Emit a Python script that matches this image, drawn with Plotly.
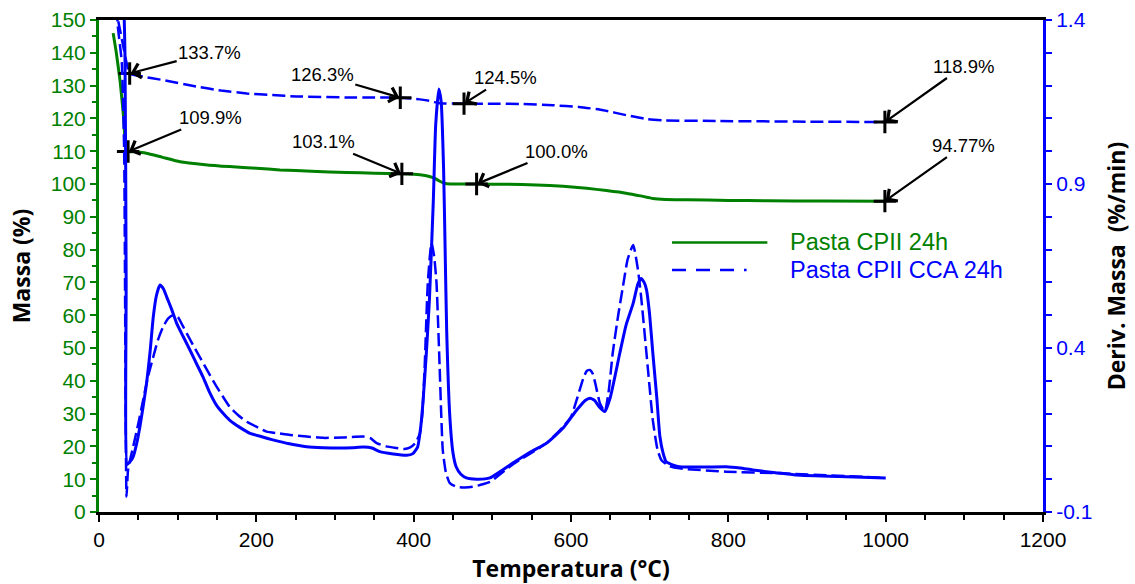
import plotly.graph_objects as go

# ---- Mass curves (left axis, %) ----
mass_cp_temp = [18, 22, 27, 31, 34, 37, 45, 60, 80, 103,
                135, 166, 200, 230, 270, 315, 350, 385, 408, 420,
                427, 432, 437, 442, 460, 480, 520, 556, 590, 620,
                645, 670, 690, 704, 720, 747, 800, 850, 920, 1000]
mass_cp = [146.0, 140.0, 131.0, 121.0, 111.5, 109.9, 109.8, 109.4, 108.2, 106.8,
           105.9, 105.3, 104.8, 104.3, 103.9, 103.5, 103.3, 103.1, 102.8, 102.3,
           101.7, 101.0, 100.4, 100.1, 100.0, 100.0, 99.9, 99.7, 99.3, 98.7,
           98.0, 97.2, 96.3, 95.6, 95.3, 95.2, 95.0, 94.9, 94.8, 94.77]

mass_cca_temp = [20, 25, 30, 35, 39, 50, 81, 124, 155, 188,
                 220, 251, 315, 350, 383, 408, 420, 426, 433, 464,
                 500, 535, 577, 610, 641, 670, 696, 720, 789, 900, 1000]
mass_cca = [155.0, 149.0, 143.0, 137.0, 133.7, 133.0, 131.7, 129.7, 128.5, 127.6,
            127.1, 126.7, 126.4, 126.35, 126.3, 125.8, 125.4, 125.0, 124.6, 124.5,
            124.5, 124.4, 124.0, 123.5, 122.5, 121.0, 119.8, 119.4, 119.2, 119.0, 118.9]

# ---- Derivative curves (right axis, %/min) ----
dtg_cp_temp = [18, 30, 33, 34.5, 36, 40, 43.5, 48, 52, 56,
               60.5, 65, 69, 73, 77.5, 82, 86, 92, 98.6, 107,
               115.6, 124, 132, 140, 149.5, 158, 166, 179, 192, 206,
               221, 242, 264, 285, 306, 322, 336, 347, 357, 374,
               391, 399, 405, 409, 412, 416, 420, 425, 428, 432,
               435, 438, 440, 442, 446, 450, 454, 460, 467, 480,
               497, 526, 550, 569, 590, 607, 618, 624, 630, 636,
               643, 650, 662, 670, 679, 685, 689, 693, 696, 700,
               704, 709, 713, 717, 721, 730, 738, 770, 797, 815,
               831, 860, 886, 940, 1000]
dtg_cp = [1.6, 1.5, 1.3, 0.6, 0.045, 0.055, 0.069, 0.11, 0.16, 0.22,
          0.293, 0.39, 0.495, 0.56, 0.592, 0.58, 0.556, 0.52, 0.476, 0.435,
          0.394, 0.352, 0.313, 0.268, 0.225, 0.2, 0.18, 0.158, 0.14, 0.13,
          0.12, 0.108, 0.099, 0.096, 0.095, 0.096, 0.098, 0.095, 0.084, 0.077,
          0.073, 0.078, 0.098, 0.16, 0.24, 0.38, 0.546, 0.85, 1.08, 1.19,
          1.15, 0.95, 0.7, 0.45, 0.19, 0.08, 0.038, 0.015, 0.004, 0.0,
          0.004, 0.049, 0.085, 0.11, 0.156, 0.21, 0.24, 0.247, 0.24, 0.22,
          0.206, 0.25, 0.384, 0.47, 0.536, 0.595, 0.612, 0.6, 0.577, 0.5,
          0.385, 0.25, 0.13, 0.08, 0.053, 0.043, 0.038, 0.037, 0.038, 0.034,
          0.028, 0.02, 0.013, 0.008, 0.004]

dtg_cca_temp = [18, 24, 29, 32, 35, 37, 43.5, 50, 56, 62,
                69, 75, 81.6, 88, 94, 100, 107, 117, 128, 138,
                149.5, 158, 166, 177, 188, 200, 213, 228, 243, 264,
                285, 310, 336, 345, 353, 365, 378, 388, 395, 402,
                408, 411, 414, 418, 422.6, 426, 429, 431, 433, 435,
                437, 441, 446, 454, 465, 475, 484, 497, 526, 569,
                590, 600, 607, 612, 616, 620, 624, 628, 632, 637,
                643, 648, 653, 660, 666, 672, 679, 685, 689, 692,
                698, 704, 710, 715, 725, 738, 797, 865, 1000]
dtg_cca = [1.6, 1.38, 1.27, 1.0, -0.053, 0.03, 0.1, 0.17, 0.24, 0.31,
           0.373, 0.425, 0.465, 0.49, 0.5, 0.495, 0.465, 0.42, 0.373, 0.33,
           0.282, 0.25, 0.221, 0.195, 0.175, 0.16, 0.145, 0.14, 0.135, 0.13,
           0.126, 0.127, 0.13, 0.125, 0.11, 0.1, 0.095, 0.092, 0.096, 0.11,
           0.14, 0.2, 0.343, 0.6, 0.72, 0.68, 0.6, 0.48, 0.343, 0.2,
           0.089, 0.02, -0.012, -0.023, -0.025, -0.023, -0.018, -0.008, 0.045, 0.11,
           0.16, 0.19, 0.24, 0.28, 0.31, 0.33, 0.333, 0.32, 0.28, 0.23,
           0.206, 0.27, 0.384, 0.5, 0.587, 0.67, 0.714, 0.64, 0.56, 0.485,
           0.33, 0.18, 0.09, 0.058, 0.04, 0.033, 0.023, 0.018, 0.004]

# ---- Marked mass readings ----
mark_temp = [39, 383, 464, 999, 37, 385, 480, 999]
mark_value = [133.7, 126.3, 124.5, 118.9, 109.9, 103.1, 100.0, 94.77]
mark_label = ["133.7%", "126.3%", "124.5%", "118.9%",
              "109.9%", "103.1%", "100.0%", "94.77%"]

series_names = ["Pasta CPII 24h", "Pasta CPII CCA 24h"]

GREEN = "#008000"
BLUE = "#0000FF"
TICK_FONT = "Arial, Liberation Sans, sans-serif"
TITLE_FONT = "Open Sans, sans-serif"

fig = go.Figure()

# derivative curves
fig.add_trace(go.Scatter(x=dtg_cp_temp, y=dtg_cp, yaxis="y2", mode="lines",
                         line=dict(color=BLUE, width=3, shape="spline", smoothing=0.5),
                         showlegend=False))
fig.add_trace(go.Scatter(x=dtg_cca_temp, y=dtg_cca, yaxis="y2", mode="lines",
                         line=dict(color=BLUE, width=2.5, dash="13px,5px",
                                   shape="spline", smoothing=0.5),
                         showlegend=False))
# mass curves
fig.add_trace(go.Scatter(x=mass_cp_temp, y=mass_cp, mode="lines", name=series_names[0],
                         line=dict(color=GREEN, width=3, shape="spline", smoothing=0.5),
                         showlegend=False))
fig.add_trace(go.Scatter(x=mass_cca_temp, y=mass_cca, mode="lines", name=series_names[1],
                         line=dict(color=BLUE, width=2.5, dash="13px,5px",
                                   shape="spline", smoothing=0.5),
                         showlegend=False))
# cross markers at the labelled readings
fig.add_trace(go.Scatter(x=mark_temp, y=mark_value, mode="markers",
                         marker=dict(symbol="cross-thin", size=16,
                                     line=dict(color="black", width=3)),
                         showlegend=False))

# label offsets (px) of each text from its marker
label_dx = [80, -78, 41, 79, 82, -78, 80, 79]
label_dy = [-21, -23, -26, -56, -34, -32, -33, -56]
for t, v, lab, dx, dy in zip(mark_temp, mark_value, mark_label, label_dx, label_dy):
    fig.add_annotation(x=t, y=v, xref="x", yref="y", text=lab,
                       showarrow=True, ax=dx, ay=dy, axref="pixel", ayref="pixel",
                       arrowhead=4, arrowsize=1.3, arrowwidth=2.2, arrowcolor="black",
                       standoff=1, font=dict(family=TICK_FONT, size=18.5, color="black"))

# legend drawn as line samples with text beside them
fig.add_shape(type="line", xref="paper", yref="paper", x0=0.607, x1=0.708,
              y0=0.548, y1=0.548, line=dict(color=GREEN, width=2.5))
fig.add_shape(type="line", xref="paper", yref="paper", x0=0.607, x1=0.686,
              y0=0.492, y1=0.492, line=dict(color=BLUE, width=2.5, dash="14px,10px"))
fig.add_annotation(xref="paper", yref="paper", x=0.73, y=0.548, xanchor="left",
                   yanchor="middle", text=series_names[0], showarrow=False,
                   font=dict(family=TICK_FONT, size=23.5, color=GREEN))
fig.add_annotation(xref="paper", yref="paper", x=0.73, y=0.492, xanchor="left",
                   yanchor="middle", text=series_names[1], showarrow=False,
                   font=dict(family=TICK_FONT, size=23.5, color=BLUE))

fig.update_layout(
    width=1135, height=584,
    margin=dict(l=99, r=92, t=20, b=72, autoexpand=False),
    plot_bgcolor="white", paper_bgcolor="white",
    xaxis=dict(range=[0, 1200], dtick=200, tick0=0, showgrid=False, zeroline=False,
               showline=True, linecolor="black", linewidth=3, mirror=True,
               ticks="outside", ticklen=7, tickwidth=2, tickcolor="black",
               minor=dict(dtick=50, tick0=0, ticks="outside", ticklen=5,
                          tickwidth=2, tickcolor="black", showgrid=False),
               tickfont=dict(family=TICK_FONT, size=21, color="black"),
               title=dict(text="<b>Temperatura (°C)</b>", standoff=12,
                          font=dict(family=TITLE_FONT, size=23, color="black"))),
    yaxis=dict(range=[0, 150], dtick=10, tick0=0, showgrid=False, zeroline=False,
               showline=True, linecolor=GREEN, linewidth=3,
               ticks="outside", ticklen=6, tickwidth=2, tickcolor=GREEN,
               minor=dict(dtick=5, tick0=0, ticks="outside", ticklen=4,
                          tickwidth=2, tickcolor=GREEN, showgrid=False),
               tickfont=dict(family=TICK_FONT, size=21, color=GREEN),
               title=dict(text="<b>Massa (%)</b>", standoff=14,
                          font=dict(family=TITLE_FONT, size=23, color="black"))),
    yaxis2=dict(range=[-0.1, 1.4], overlaying="y", side="right",
                tickmode="array", tickvals=[-0.1, 0.4, 0.9, 1.4],
                ticktext=["-0.1", "0.4", "0.9", "1.4"],
                showgrid=False, zeroline=False,
                showline=True, linecolor=BLUE, linewidth=3,
                ticks="outside", ticklen=6, tickwidth=2, tickcolor=BLUE,
                minor=dict(tickmode="array",
                           tickvals=[0.0, 0.1, 0.2, 0.3, 0.5, 0.6, 0.7, 0.8,
                                     1.0, 1.1, 1.2, 1.3],
                           ticks="outside", ticklen=6, tickwidth=2,
                           tickcolor=BLUE, showgrid=False),
                tickfont=dict(family=TICK_FONT, size=21, color=BLUE),
                title=dict(text="<b>Deriv. Massa \u00a0(%/min)</b>", standoff=18,
                           font=dict(family=TITLE_FONT, size=23, color="black"))),
)

fig.write_html("out.html")
